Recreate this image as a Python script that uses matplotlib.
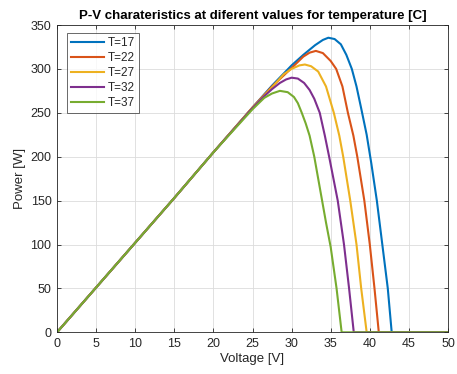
import matplotlib
matplotlib.use("Agg")
import matplotlib.pyplot as plt

# ---- data ----
labels = ["T=17", "T=22", "T=27", "T=32", "T=37"]
colors = ["#0072BD", "#D95319", "#EDB120", "#7E2F8E", "#77AC30"]

v_t17 = [0, 5, 10, 15, 20, 25, 27.5, 30, 31.5, 33, 34, 34.7, 35.5, 36.3, 37, 37.7, 38.3, 38.9, 39.6, 40.2, 40.9, 41.6, 42.3, 42.8, 50]
p_t17 = [0, 51, 102, 153, 205, 256, 281, 304, 316, 327, 333, 335.5, 334, 328, 316, 300, 280, 255, 225, 192, 150, 100, 50, 0, 0]

v_t22 = [0, 5, 10, 15, 20, 25, 27.5, 30, 31.5, 32.3, 33.1, 34, 35, 35.7, 36.5, 37.2, 37.9, 38.4, 39.3, 40.0, 40.6, 41.15, 50]
p_t22 = [0, 51, 102, 153, 205, 256, 280, 301, 314, 318.5, 320.5, 318, 309, 300, 280, 250, 224, 200, 150, 100, 50, 0, 0]

v_t27 = [0, 5, 10, 15, 20, 25, 27.5, 29, 30, 31, 31.7, 32.5, 33.4, 34.4, 35.4, 36.1, 36.6, 37.5, 38.3, 38.9, 39.6, 50]
p_t27 = [0, 51, 102, 153, 205, 256, 279, 294, 300, 304, 305, 303, 297, 280, 250, 224, 200, 150, 100, 50, 0, 0]

v_t32 = [0, 5, 10, 15, 20, 25, 26.5, 27.5, 28.5, 29.3, 30, 30.8, 31.6, 32.3, 32.9, 33.6, 34.25, 34.8, 35.9, 36.7, 37.35, 37.95, 50]
p_t32 = [0, 51, 102, 153, 205, 255.5, 269, 277, 284, 288, 290, 289, 284, 276, 266, 250, 224, 200, 150, 100, 50, 0, 0]

v_t37 = [0, 5, 10, 15, 20, 25, 26.5, 27.5, 28.5, 29.5, 30.3, 30.8, 31.3, 31.8, 32.3, 32.9, 33.9, 34.4, 35.0, 35.75, 36.4, 50]
p_t37 = [0, 51, 102, 153, 205, 254, 267, 272, 275, 273.5, 268, 261, 250, 238, 224, 200, 150, 125, 97, 50, 0, 0]

voltages = [v_t17, v_t22, v_t27, v_t32, v_t37]
powers = [p_t17, p_t22, p_t27, p_t32, p_t37]

xticks = list(range(0, 51, 5))
yticks = list(range(0, 351, 50))

# ---- style ----
plt.rcParams['font.family'] = ['Liberation Sans', 'DejaVu Sans']
txt = "#262626"

fig = plt.figure(figsize=(4.57, 3.74), dpi=100)
fig.patch.set_facecolor("white")
W, H = 457, 374
ax = fig.add_axes([57 / W, (H - 332.3) / H, (448 - 57) / W, (332.3 - 25) / H])

for v, p, c, lab in zip(voltages, powers, colors, labels):
    ax.plot(v, p, color=c, lw=1.5, label=lab, solid_joinstyle="round")

ax.set_xlim(0, 50)
ax.set_ylim(0, 350)
ax.set_xticks(xticks)
ax.set_yticks(yticks)
ax.grid(True, color="#dcdcdc", lw=0.6)
ax.set_axisbelow(True)
ax.tick_params(direction="in", length=3, width=0.6, colors="#262626",
               labelsize=9, top=True, right=True, labelcolor=txt, pad=4)
for s in ax.spines.values():
    s.set_color("#262626")
    s.set_linewidth(0.6)

ax.set_xlabel("Voltage [V]", fontsize=9.5, color=txt, labelpad=2)
ax.set_ylabel("Power [W]", fontsize=9.5, color=txt, labelpad=3)
ax.set_title("P-V charateristics at diferent values for temperature [C]",
             fontsize=9.5, fontweight="bold", color="black", pad=4)

leg = ax.legend(loc="upper left", bbox_to_anchor=(10 / 391, 1 - 8 / 307),
                borderaxespad=0, fontsize=8.5, frameon=True, fancybox=False,
                handlelength=2.8, handletextpad=0.3, labelspacing=0.25,
                borderpad=0.35)
leg.get_frame().set_edgecolor("#262626")
leg.get_frame().set_linewidth(0.6)
for t in leg.get_texts():
    t.set_color(txt)

fig.savefig("out.png", dpi=100, facecolor="white")
